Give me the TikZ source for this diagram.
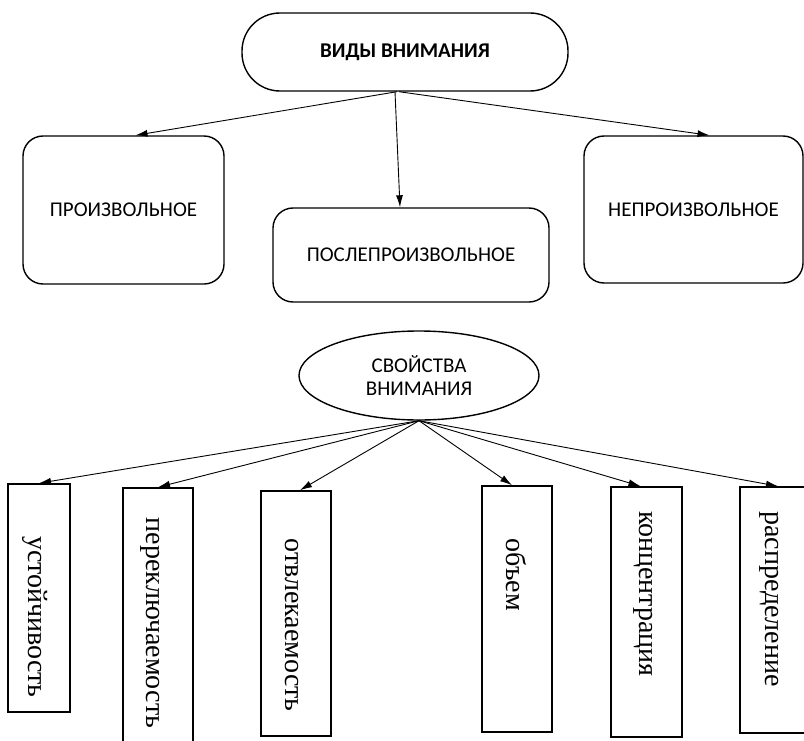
\documentclass[tikz,border=0pt]{standalone}
\usepackage{fontspec}
\setmainfont{Liberation Serif}
\newfontfamily\calib{Carlito}
\usetikzlibrary{shapes.geometric,arrows.meta}

\begin{document}
\begin{tikzpicture}[x=1bp,y=1bp]
	\tikzstyle{every node}+=[inner sep=0pt]
	\tikzstyle{pill}=[draw, line width=1.4bp, rounded corners=38bp, font=\calib\bfseries\fontsize{21bp}{24bp}\selectfont]
	\tikzstyle{rbox}=[draw, line width=1.4bp, rounded corners=20bp, font=\calib\fontsize{21bp}{24bp}\selectfont]
	\tikzstyle{oval}=[draw, ellipse, line width=1.4bp, align=center, font=\calib\fontsize{21bp}{23bp}\selectfont]
	\tikzstyle{vbox}=[draw, line width=1.6bp]
	\tikzstyle{vtext}=[rotate=-90, font=\fontsize{28bp}{30bp}\selectfont]
	\tikzstyle{arr}=[line width=0.9bp, -{Latex[length=12bp,width=7bp]}]
	\useasboundingbox (0,0) rectangle (804,-741);
	\clip (0,0) rectangle (804,-741);
	% kinds
	\node [pill, minimum width=326bp, minimum height=78bp] (vidy) at (405,-52) {ВИДЫ ВНИМАНИЯ};
	\node [rbox, minimum width=201bp, minimum height=148bp] (proizv) at (123.5,-210) {ПРОИЗВОЛЬНОЕ};
	\node [rbox, minimum width=276bp, minimum height=94bp] (posle) at (411,-255) {ПОСЛЕПРОИЗВОЛЬНОЕ};
	\node [rbox, minimum width=219bp, minimum height=147bp] (neproizv) at (693.5,-209.5) {НЕПРОИЗВОЛЬНОЕ};
	\draw [arr] ([xshift=-8bp]vidy.south) -- ([xshift=12bp]proizv.north);
	\draw [arr] ([xshift=-10bp]vidy.south) -- ([xshift=-11bp]posle.north);
	\draw [arr] ([xshift=-6bp]vidy.south) -- ([xshift=16bp]neproizv.north);
	% properties
	\node [oval, minimum width=240bp, minimum height=89bp] (svoystva) at (419,-375.5) {СВОЙСТВА\\ВНИМАНИЯ};
	\node [vbox, minimum width=62bp, minimum height=228bp] (ustoich) at (39,-598) {};
	\node [vbox, minimum width=70bp, minimum height=272bp] (perekl) at (158,-624) {};
	\node [vbox, minimum width=70bp, minimum height=245bp] (otvlek) at (296,-613.5) {};
	\node [vbox, minimum width=70bp, minimum height=246bp] (obem) at (517,-609) {};
	\node [vbox, minimum width=71bp, minimum height=250bp] (konc) at (646.5,-612) {};
	\node [vbox, minimum width=70bp, minimum height=246bp] (raspr) at (775,-610) {};
	\node [vtext] (ustoich-t) at (35,-617) {устойчивость};
	\node [vtext] (perekl-t) at (150,-623) {переключаемость};
	\node [vtext] (otvlek-t) at (292,-625) {отвлекаемость};
	\node [vtext] (obem-t) at (516,-575) {объем};
	\node [vtext] (konc-t) at (643,-594) {концентрация};
	\node [vtext] (raspr-t) at (769,-599) {распределение};
	\draw [arr] (svoystva.south) -- (ustoich.north);
	\draw [arr] (svoystva.south) -- (perekl.north);
	\draw [arr] (svoystva.south) -- ([xshift=4bp]otvlek.north);
	\draw [arr] (svoystva.south) -- ([xshift=-5bp]obem.north);
	\draw [arr] (svoystva.south) -- ([xshift=-6bp]konc.north);
	\draw [arr] (svoystva.south) -- ([xshift=3bp]raspr.north);
\end{tikzpicture}
\end{document}
